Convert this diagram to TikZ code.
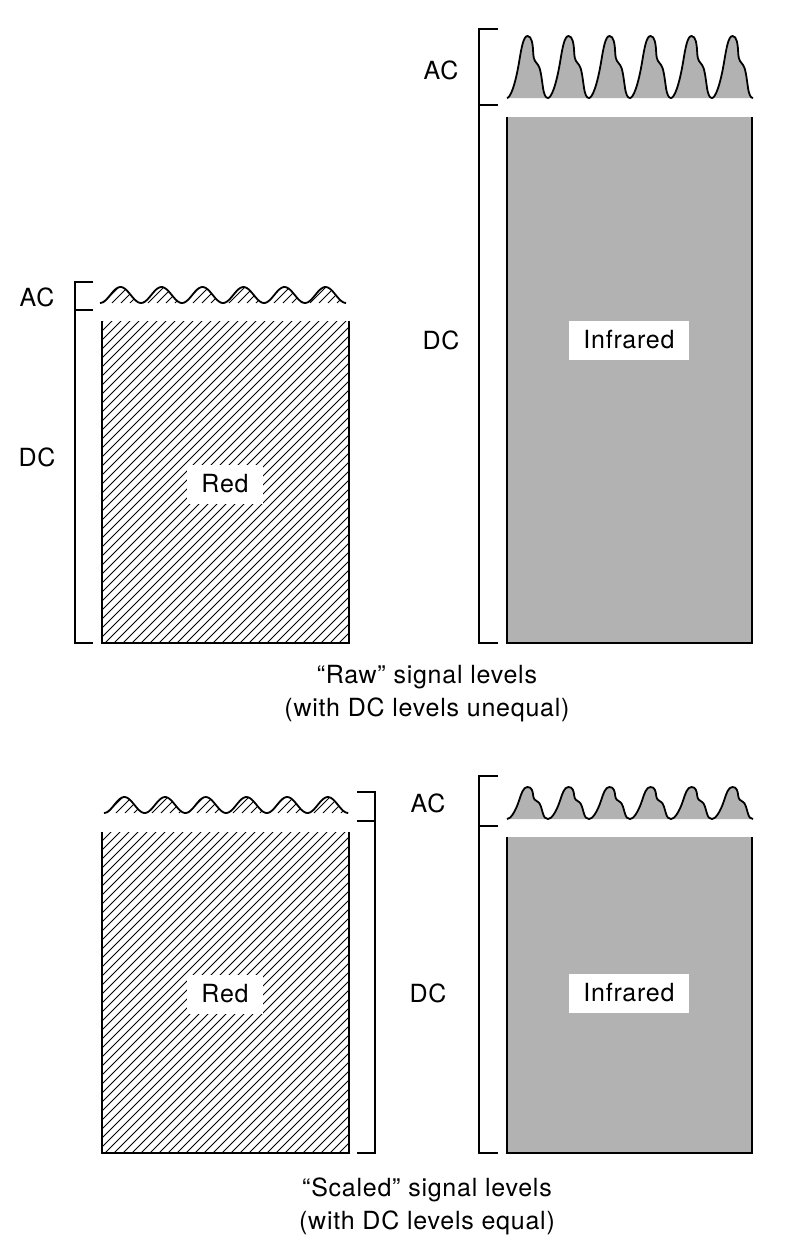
\documentclass[tikz,border=0pt]{standalone}
\usepackage{fontspec}
\setmainfont{TeX Gyre Heros}[LetterSpace=3]

\definecolor{irgray}{gray}{0.7}

\tikzset{
  bar/.style={line width=2pt},
  brace/.style={line width=1.5pt},
  wave/.style={line width=1.8pt},
  hatchline/.style={line width=0.9pt},
  lbl/.style={font=\fontsize{25}{33}\selectfont},
  namebox/.style={lbl, fill=white, inner xsep=14pt, minimum height=39pt},
}

% hatch lines at 45 degrees from the bottom edge (use inside a clip)
\newcommand{\hatchfrom}[2]{%
  \foreach \k in {0,...,66}
    \draw [hatchline] ({#1-330+9*\k},#2) -- ++(400,-400);
}

% six pulses: x start, baseline, height, period
\newcommand{\pulses}[4]{%
  \filldraw[wave, fill=irgray] (#1,#2)
  \foreach \i in {0,...,5} {
    .. controls ({#1+(\i+0.08)*#4},#2) and ({#1+(\i+0.2)*#4},{#2-0.2*#3}) .. ({#1+(\i+0.3)*#4},{#2-0.6*#3})
    .. controls ({#1+(\i+0.35)*#4},{#2-0.8*#3}) and ({#1+(\i+0.4)*#4},{#2-#3}) .. ({#1+(\i+0.5)*#4},{#2-#3})
    .. controls ({#1+(\i+0.6)*#4},{#2-#3}) and ({#1+(\i+0.63)*#4},{#2-0.88*#3}) .. ({#1+(\i+0.64)*#4},{#2-0.72*#3})
    .. controls ({#1+(\i+0.65)*#4},{#2-0.6*#3}) and ({#1+(\i+0.7)*#4},{#2-0.58*#3}) .. ({#1+(\i+0.76)*#4},{#2-0.53*#3})
    .. controls ({#1+(\i+0.81)*#4},{#2-0.49*#3}) and ({#1+(\i+0.84)*#4},{#2-0.35*#3}) .. ({#1+(\i+0.87)*#4},{#2-0.2*#3})
    .. controls ({#1+(\i+0.9)*#4},{#2-0.05*#3}) and ({#1+(\i+0.94)*#4},#2) .. ({#1+(\i+1)*#4},#2)
  };
}

\begin{document}
\begin{tikzpicture}[x=1pt, y=-1pt]
  \useasboundingbox (0,0) rectangle (806,1250);

  % raw: red
  \begin{scope}
    \clip plot [domain=0:6, samples=150] ({100+41*\x}, {303-8*(1-cos(360*\x))});
    \hatchfrom{100}{303}
  \end{scope}
  \draw [wave] plot [domain=0:6, samples=150] ({100+41*\x}, {303-8*(1-cos(360*\x))});
  \begin{scope}
    \clip (102,321) rectangle (349,643);
    \hatchfrom{102}{643}
  \end{scope}
  \draw [bar] (102,321) -- (102,643) -- (349,643) -- (349,321);
  \draw [brace] (93,282) -- (75,282) -- (75,643) -- (93,643);
  \draw [brace] (75,310) -- (93,310);
  \node [lbl] (acred) at (37,297) {AC};
  \node [lbl] (dcred) at (37,457) {DC};
  \node [namebox] (redraw) at (225,484) {Red};

  % raw: infrared
  \pulses{507}{98}{62}{41}
  \fill [irgray] (507,117) rectangle (752,643);
  \draw [bar] (507,117) -- (507,643) -- (752,643) -- (752,117);
  \draw [brace] (498,29) -- (479,29) -- (479,643) -- (498,643);
  \draw [brace] (479,105) -- (498,105);
  \node [lbl] (acir) at (441,70) {AC};
  \node [lbl] (dcir) at (441,340) {DC};
  \node [namebox] (irraw) at (629,340) {Infrared};

  \node [lbl, align=center] (rawcap) at (427,694) {“Raw” signal levels\\(with DC levels unequal)};

  % scaled: red
  \begin{scope}
    \clip plot [domain=0:6, samples=150] ({104+40.7*\x}, {813-8*(1-cos(360*\x))});
    \hatchfrom{104}{813}
  \end{scope}
  \draw [wave] plot [domain=0:6, samples=150] ({104+40.7*\x}, {813-8*(1-cos(360*\x))});
  \begin{scope}
    \clip (102,832) rectangle (349,1153);
    \hatchfrom{102}{1153}
  \end{scope}
  \draw [bar] (102,832) -- (102,1153) -- (349,1153) -- (349,832);
  \draw [brace] (357,792) -- (375,792) -- (375,1153) -- (357,1153);
  \draw [brace] (375,821) -- (357,821);
  \node [namebox] (redscaled) at (225,994) {Red};

  % scaled: infrared
  \pulses{507}{819}{32}{41}
  \fill [irgray] (507,837) rectangle (752,1153);
  \draw [bar] (507,837) -- (507,1153) -- (752,1153) -- (752,837);
  \draw [brace] (498,776) -- (479,776) -- (479,1153) -- (498,1153);
  \draw [brace] (479,826) -- (498,826);
  \node [lbl] (acsc) at (428,803) {AC};
  \node [lbl] (dcsc) at (428,993) {DC};
  \node [namebox] (irscaled) at (629,993) {Infrared};

  \node [lbl, align=center] (scaledcap) at (427,1206) {“Scaled” signal levels\\(with DC levels equal)};
\end{tikzpicture}
\end{document}
